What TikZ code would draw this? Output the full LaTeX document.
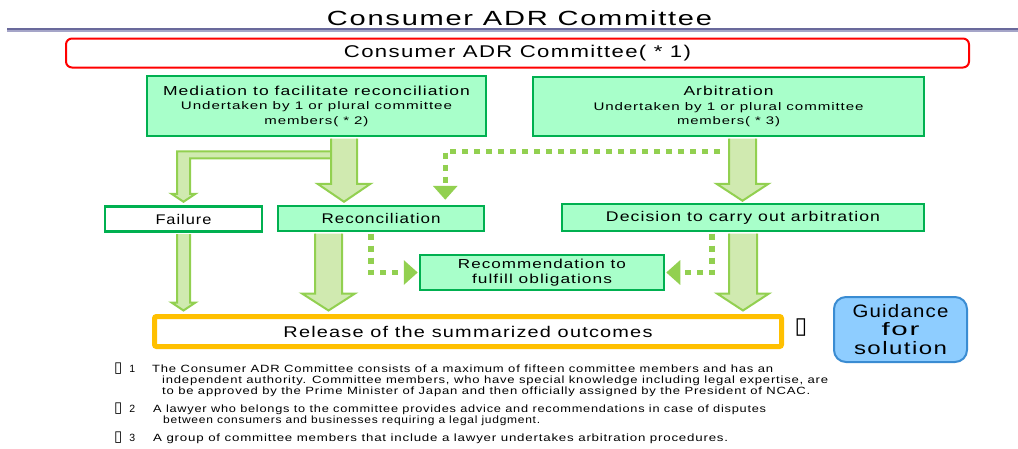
\documentclass[tikz,border=0pt]{standalone}
\usepackage{fontspec}
\usepackage{graphicx}
\setmainfont{Liberation Sans}[LetterSpace=6]
\newfontfamily\dvs{DejaVu Sans}
\usetikzlibrary{calc,arrows.meta}
\definecolor{gfill}{RGB}{168,255,202}
\definecolor{gline}{RGB}{0,176,80}
\definecolor{afill}{RGB}{208,234,176}
\definecolor{aline}{RGB}{146,208,80}
\definecolor{oline}{RGB}{255,192,0}
\definecolor{bfill}{RGB}{142,205,255}
\definecolor{bline}{RGB}{58,140,210}
\definecolor{tlineA}{RGB}{105,105,155}
\definecolor{tlineB}{RGB}{165,165,200}
\newcommand\fw[2]{\resizebox{#1pt}{\height}{#2}}
\newcommand\fs[2]{\fontsize{#1}{#2}\selectfont}
\newcommand\barrow[5]{%
  \draw[barrowst] let \p1=#1, \p2=#2 in
   (\x1-#3pt,\y1-1.25pt) -- (\x1-#3pt,\y2+#5pt) -- (\x1-#4pt,\y2+#5pt) -- (\x1,\y2)
   -- (\x1+#4pt,\y2+#5pt) -- (\x1+#3pt,\y2+#5pt) -- (\x1+#3pt,\y1-1.25pt);}
\begin{document}
\begin{tikzpicture}[x=1pt,y=-1pt,
  gbox/.style={draw=gline, line width=2.5pt, fill=gfill, inner sep=0pt, align=center, text=black},
  wbox/.style={gbox, fill=white},
  barrowst/.style={draw=aline, fill=afill, line width=2pt, line join=miter},
  dots/.style={draw=aline, line width=5.5pt, dash pattern=on 6pt off 6pt, -{Triangle[width=24pt,length=14pt]}},
  note/.style={anchor=base west, inner sep=0pt, text=black},
  tofu/.style={font=\dvs, inner sep=0pt, text=black}]
\fill[white] (0,0) rectangle (1018,448);
\useasboundingbox (0,0) rectangle (1018,448);

% title and rule
\node[anchor=base, inner sep=0pt] (title) at (519.5,25) {\fs{20.5}{22}\fw{385}{Consumer ADR Committee}};
\draw[tlineB, line width=4pt] (7,30.3) -- (1018,30.3);
\draw[tlineA, line width=2pt] (7,29.3) -- (1018,29.3);

% boxes
\node[draw=red, line width=2pt, rounded corners=6pt, minimum width=903pt, minimum height=29pt, inner sep=0pt] (cadr) at (517.5,53)
  {\fs{17}{18}\fw{347}{Consumer ADR Committee( * 1)}};
\node[gbox, minimum width=339pt, minimum height=60pt, font=\fs{11}{14.5}] (med) at (316.5,106)
  {\fs{13}{14.5}\fw{307}{Mediation to facilitate reconciliation}\\
   \fw{271}{Undertaken by 1 or plural committee}\\
   \fw{104}{members( * 2)}};
\node[gbox, minimum width=391pt, minimum height=59pt, font=\fs{11}{14.5}] (arb) at (728.5,106.5)
  {\fs{13}{14.5}\fw{90}{Arbitration}\\
   \fw{270}{Undertaken by 1 or plural committee}\\
   \fw{103}{members( * 3)}};
\node[wbox, minimum width=157pt, minimum height=25pt, font=\fs{14}{15}] (failure) at (183.5,219) {\fw{56}{Failure}};
\node[gbox, minimum width=206pt, minimum height=25pt, font=\fs{14}{15}] (recon) at (381,218.5) {\fw{119}{Reconciliation}};
\node[gbox, minimum width=362pt, minimum height=27pt, font=\fs{14}{15}] (dec) at (743,217.5) {\fw{274}{Decision to carry out arbitration}};
\node[gbox, minimum width=244pt, minimum height=35pt, font=\fs{13}{14.5}] (recbox) at (542,272.5)
  {\fw{168}{Recommendation to}\\ \fw{140}{fulfill obligations}};
\node[draw=oline, line width=5pt, rounded corners=2pt, fill=white, minimum width=627pt, minimum height=30pt, inner sep=0pt, font=\fs{15.5}{17}] (rel) at (468,331.5)
  {\fw{369}{Release of the summarized outcomes}};
\node[tofu] (tofuA) at (801,328) {\fs{23}{25}▯};
\node[draw=bline, fill=bfill, line width=2pt, rounded corners=12pt, minimum width=133pt, minimum height=65pt, align=center, inner sep=0pt, font=\fs{18}{18.5}] (guide) at (900.5,329.5)
  {\fw{96}{Guidance}\\ \fw{38}{for}\\ \fw{93}{solution}};

% branch to failure
\draw[barrowst] let \p1=(med.south), \p2=(failure.north) in
  (\x1+14.5pt,\y1-14pt) -- (\x2-6.5pt,\y1-14pt) -- (\x2-6.5pt,\y2+11.5pt) -- (\x2-12pt,\y2+11.5pt)
  -- (\x2,\y2+3.5pt) -- (\x2+12pt,\y2+11.5pt) -- (\x2+6.5pt,\y2+11.5pt) -- (\x2+6.5pt,\y1-21pt) -- (\x1+14.5pt,\y1-21pt);

% block arrows
\barrow{([xshift=27.5pt]med.south)}{([yshift=3pt]recon.north)}{13}{26.5}{18}
\barrow{([xshift=14pt]arb.south)}{([yshift=2pt]dec.north)}{13.5}{26}{17}
\barrow{(failure.south)}{([yshift=3.5pt]rel.north)}{6.5}{12}{8}
\barrow{([xshift=-52.5pt]recon.south)}{([yshift=3.5pt]rel.north)}{13.5}{26.5}{17}
\barrow{(dec.south)}{([yshift=3.5pt]rel.north)}{14}{26}{17}

% dotted arrows
\coordinate (d1) at ($(arb.south)+(-8.5,14)$);
\draw[dots, shorten >=5pt] (d1) -| ([xshift=-40pt]recon.north east);
\draw[dots, shorten >=1pt] ([xshift=-10pt,yshift=-1.25pt]recon.south) |- (recbox.west);
\draw[dots, shorten >=1pt] ([xshift=-31pt,yshift=-1.25pt]dec.south) |- (recbox.east);

% footnotes
\node[note] (m1) at (114,372.5) {{\dvs\fs{15}{16}▯}\hspace{7pt}\fs{10.5}{11.5}1};
\node[note] (n1a) at (152,372.5) {\fs{10.5}{11.5}\fw{621}{The Consumer ADR Committee consists of a maximum of fifteen committee members and has an}};
\node[note] (n1b) at (162,383.5) {\fs{10.5}{11.5}\fw{666}{independent authority. Committee members, who have special knowledge including legal expertise, are}};
\node[note] (n1c) at (162,394.5) {\fs{10.5}{11.5}\fw{648}{to be approved by the Prime Minister of Japan and then officially assigned by the President of NCAC.}};
\node[note] (m2) at (114,412.5) {{\dvs\fs{15}{16}▯}\hspace{7pt}\fs{10.5}{11.5}2};
\node[note] (n2a) at (153,412.5) {\fs{10.5}{11.5}\fw{613}{A lawyer who belongs to the committee provides advice and recommendations in case of disputes}};
\node[note] (n2b) at (163,423.5) {\fs{10.5}{11.5}\fw{377}{between consumers and businesses requiring a legal judgment.}};
\node[note] (m3) at (114,441.5) {{\dvs\fs{15}{16}▯}\hspace{7pt}\fs{10.5}{11.5}3};
\node[note] (n3a) at (153,441.5) {\fs{10.5}{11.5}\fw{575}{A group of committee members that include a lawyer undertakes arbitration procedures.}};
\end{tikzpicture}
\end{document}
